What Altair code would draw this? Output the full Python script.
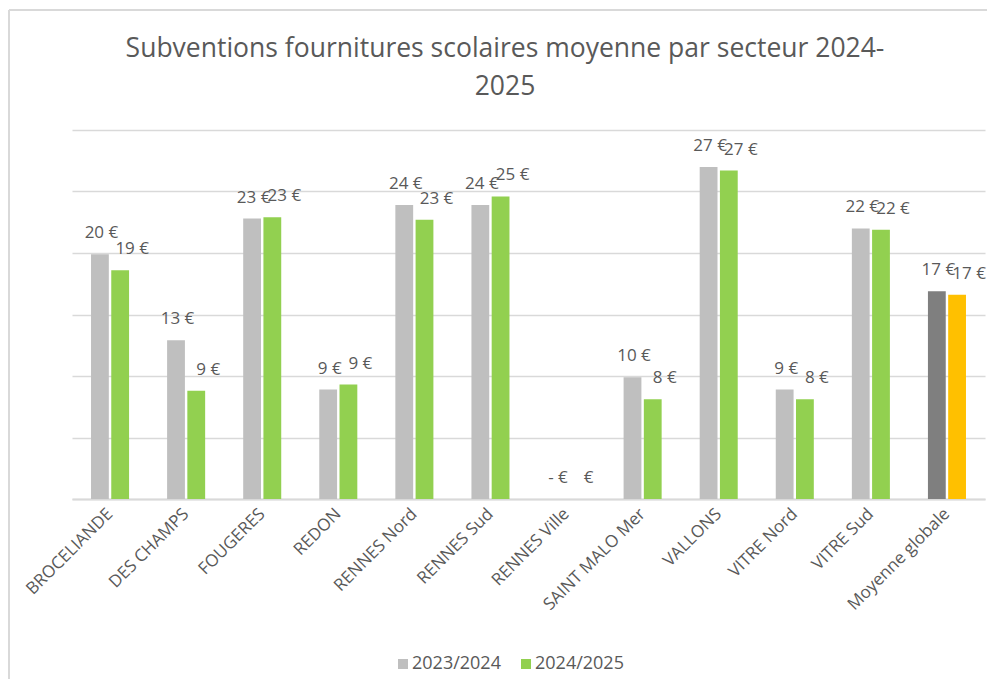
import altair as alt
import pandas as pd

categories = ["BROCELIANDE", "DES CHAMPS", "FOUGERES", "REDON", "RENNES Nord",
              "RENNES Sud", "RENNES Ville", "SAINT MALO Mer", "VALLONS",
              "VITRE Nord", "VITRE Sud", "Moyenne globale"]
years = ["2023/2024", "2024/2025"]
values_2023 = [19.9, 12.9, 22.8, 8.9, 23.9, 23.9, 0, 9.9, 27.0, 8.9, 22.0, 16.9]
values_2024 = [18.6, 8.8, 22.9, 9.3, 22.7, 24.6, 0, 8.1, 26.7, 8.1, 21.9, 16.6]
labels_2023 = ["20 €", "13 €", "23 €", "9 €", "24 €", "24 €", "-  €", "10 €", "27 €", "9 €", "22 €", "17 €"]
labels_2024 = ["19 €", "9 €", "23 €", "9 €", "23 €", "25 €", "€", "8 €", "27 €", "8 €", "22 €", "17 €"]
title_lines = ["Subventions fournitures scolaires moyenne par secteur 2024-", "2025"]

rows = []
for i, c in enumerate(categories):
    rows.append({"cat": c, "year": years[0], "value": values_2023[i], "label": labels_2023[i]})
    rows.append({"cat": c, "year": years[1], "value": values_2024[i], "label": labels_2024[i]})
df = pd.DataFrame(rows)

FONT = "Open Sans"
TXT = "#595959"
GRID = "#d9d9d9"

x_enc = alt.X("cat:N", sort=categories,
              scale=alt.Scale(paddingInner=0.5, paddingOuter=0.25),
              axis=alt.Axis(title=None, labelAngle=-45, labelAlign="right",
                            labelBaseline="middle", labelPadding=12,
                            labelFontSize=17, labelColor=TXT, labelFont=FONT,
                            ticks=False, domainColor=GRID, domainWidth=2,
                            grid=False))
xo_enc = alt.XOffset("year:N", sort=years,
                     scale=alt.Scale(paddingInner=0.12, paddingOuter=0))
y_enc = alt.Y("value:Q", scale=alt.Scale(domain=[0, 30], nice=False),
              axis=alt.Axis(title=None, labels=False, ticks=False, domain=False,
                            values=[0, 5, 10, 15, 20, 25, 30], gridColor=GRID,
                            gridWidth=1.5))

color_enc = alt.Color(
    "year:N",
    sort=years,
    scale=alt.Scale(domain=years, range=["#bfbfbf", "#92d050"]),
    legend=alt.Legend(title=None, orient="none", legendX=322, legendY=525,
                      direction="horizontal", symbolType="square",
                      symbolSize=100, symbolStrokeWidth=0,
                      labelFontSize=18, labelColor=TXT, labelFont=FONT,
                      columnPadding=16, labelOffset=0),
    condition=[
        {"test": "datum.cat == 'Moyenne globale' && datum.year == '2023/2024'", "value": "#7f7f7f"},
        {"test": "datum.cat == 'Moyenne globale' && datum.year == '2024/2025'", "value": "#ffc000"},
    ],
)

base = alt.Chart(df)
bars = base.mark_bar().encode(x=x_enc, xOffset=xo_enc, y=y_enc, color=color_enc)


def label_layer(year, dx):
    return base.transform_filter(alt.datum.year == year).mark_text(
        fontSize=17, font=FONT, color=TXT, baseline="middle", dy=-21, dx=dx).encode(
        x=alt.X("cat:N", sort=categories), xOffset=alt.XOffset("year:N", sort=years),
        y="value:Q", text="label:N")


texts_a = label_layer(years[0], 1.5)
texts_b = label_layer(years[1], 12)

one = pd.DataFrame({"k": [0]})
title_mark = alt.Chart(one).mark_text(
    fontSize=26.5, font=FONT, color=TXT, align="center", baseline="alphabetic",
    lineHeight=38).encode(
    x=alt.value(433), y=alt.value(-73), text=alt.value(title_lines))
left_line = alt.Chart(one).mark_rule(color=GRID, strokeWidth=2).encode(
    x=alt.value(-63), y=alt.value(-120), y2=alt.value(560))
top_line = alt.Chart(one).mark_rule(color=GRID, strokeWidth=2).encode(
    x=alt.value(-63), x2=alt.value(930), y=alt.value(-120))

chart = alt.layer(bars, texts_a, texts_b, title_mark, left_line, top_line).properties(
    width=913, height=369,
    padding={"left": 64, "top": 122, "right": 2, "bottom": 180},
    autosize=alt.AutoSizeParams(type="none"),
).configure_view(stroke=None)

chart.save("out.html", embed_options={"renderer": "svg", "actions": False})
